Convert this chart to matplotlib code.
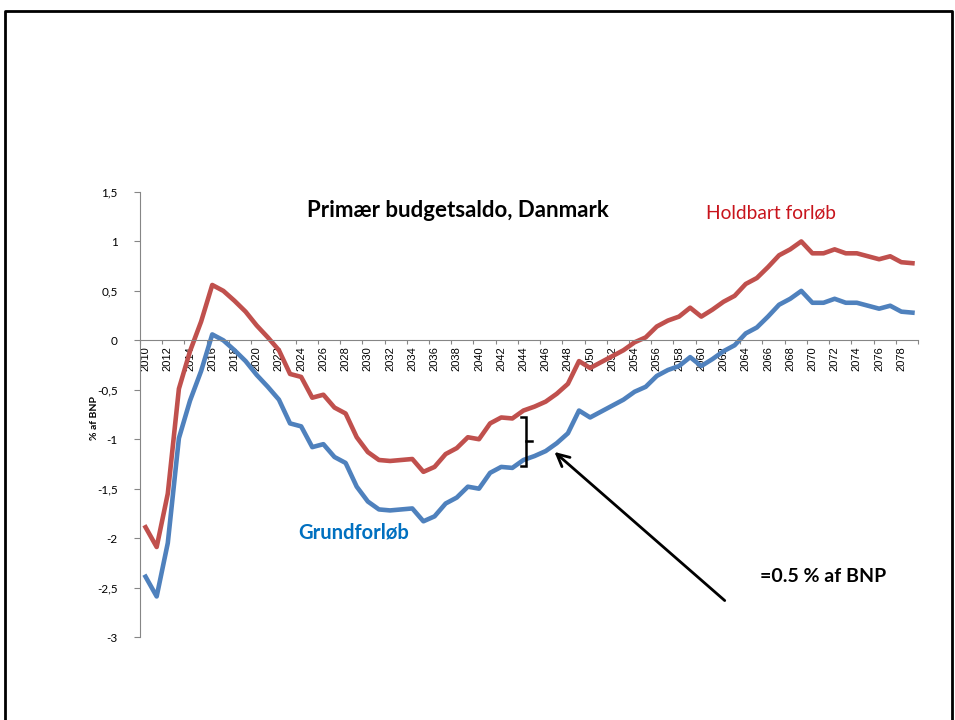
import numpy as np
import matplotlib
matplotlib.use("Agg")
import matplotlib.pyplot as plt
from matplotlib.lines import Line2D

# years on the category axis
years = list(range(2010, 2080))

# Holdbart forløb (sustainable path), % af BNP
holdbart = [-1.89, -2.09, -1.55, -0.49, -0.11, 0.19, 0.56, 0.50, 0.40, 0.29,
            0.15, 0.03, -0.10, -0.34, -0.37, -0.58, -0.55, -0.68, -0.74, -0.98,
            -1.13, -1.21, -1.22, -1.21, -1.20, -1.33, -1.28, -1.15, -1.09, -0.98,
            -1.00, -0.84, -0.78, -0.79, -0.71, -0.67, -0.62, -0.54, -0.44, -0.21,
            -0.28, -0.22, -0.16, -0.10, -0.02, 0.03, 0.14, 0.20, 0.24, 0.33,
            0.24, 0.31, 0.39, 0.45, 0.57, 0.63, 0.74, 0.86, 0.92, 1.00,
            0.88, 0.88, 0.92, 0.88, 0.88, 0.85, 0.82, 0.85, 0.79, 0.78]

# Grundforløb (baseline path), % af BNP
grund = [-2.39, -2.59, -2.05, -0.99, -0.61, -0.31, 0.06, 0.00, -0.10, -0.21,
         -0.35, -0.47, -0.60, -0.84, -0.87, -1.08, -1.05, -1.18, -1.24, -1.48,
         -1.63, -1.71, -1.72, -1.71, -1.70, -1.83, -1.78, -1.65, -1.59, -1.48,
         -1.50, -1.34, -1.28, -1.29, -1.21, -1.17, -1.12, -1.04, -0.94, -0.71,
         -0.78, -0.72, -0.66, -0.60, -0.52, -0.47, -0.36, -0.30, -0.26, -0.17,
         -0.26, -0.19, -0.11, -0.05, 0.07, 0.13, 0.24, 0.36, 0.42, 0.50,
         0.38, 0.38, 0.42, 0.38, 0.38, 0.35, 0.32, 0.35, 0.29, 0.28]

y_ticks = [1.5, 1, 0.5, 0, -0.5, -1, -1.5, -2, -2.5, -3]
y_ticklabels = ["1,5", "1", "0,5", "0", "-0,5", "-1", "-1,5", "-2", "-2,5", "-3"]

red = "#C0504D"
blue = "#4F81BD"
grey = "#868686"

fig = plt.figure(figsize=(9.55, 7.2), dpi=100)
ax = fig.add_axes([140 / 955, 1 - 637 / 720, 778 / 955, 445 / 720])

x = np.arange(len(years))
ax.plot(x, holdbart, color=red, lw=3.3, solid_joinstyle="round")
ax.plot(x, grund, color=blue, lw=3.3, solid_joinstyle="round")

ax.set_xlim(-0.5, len(years) - 0.5)
ax.set_ylim(-3, 1.5)

# axes styling: only left spine, x axis crossing at zero
for s in ["top", "right"]:
    ax.spines[s].set_visible(False)
ax.spines["bottom"].set_position(("data", 0))
ax.spines["bottom"].set_color(grey)
ax.spines["left"].set_color(grey)
ax.spines["bottom"].set_linewidth(0.8)
ax.spines["left"].set_linewidth(0.8)

ax.set_yticks(y_ticks)
ax.set_yticklabels(y_ticklabels, fontsize=8.5, family="Lato")
ax.tick_params(axis="y", direction="out", length=4, color=grey, pad=12)

# major ticks between categories, labels on every second year
ax.set_xticks(np.arange(-0.5, len(years), 2))
ax.set_xticklabels([])
ax.tick_params(axis="x", which="major", direction="out", length=3, color=grey)
ax.set_xticks(x[::2], minor=True)
ax.set_xticklabels([str(y) for y in years[::2]], minor=True, rotation=90,
                   fontsize=8, family="Liberation Sans")
ax.tick_params(axis="x", which="minor", length=0, pad=4)

ax.text(-0.058, 0.492, "% af BNP", transform=ax.transAxes, rotation=90,
        ha="center", va="center", fontsize=7.5, fontweight="bold", family="Lato")

# texts
ax.text(28.1, 1.31, "Primær budgetsaldo, Danmark", ha="center", va="center",
        fontsize=16, fontweight="bold", family="Lato")
ax.text(50.4, 1.29, "Holdbart forløb", ha="left", va="center",
        fontsize=13.8, color="#C8141C", family="Lato")
ax.text(13.7, -1.94, "Grundforløb", ha="left", va="center",
        fontsize=14.5, fontweight="bold", color="#0070C0", family="Lato")
ax.text(55.3, -2.39, "=0.5 % af BNP", ha="left", va="center",
        fontsize=14, fontweight="bold", family="Lato")

# arrow pointing at the baseline path
ax.annotate("", xy=(36.6, -1.11), xytext=(52.3, -2.65),
            arrowprops=dict(arrowstyle="->", color="black", lw=2.0,
                            mutation_scale=22))

# bracket marking the gap between the two paths
bx, btop, bbot = 34.2, -0.775, -1.267
ax.plot([bx - 0.4, bx, bx, bx - 0.4], [btop, btop, bbot, bbot],
        color="black", lw=1.8, solid_joinstyle="miter")
ax.plot([bx, bx + 0.6], [(btop + bbot) / 2] * 2, color="black", lw=1.8)

# slide frame
fig.add_artist(Line2D([5 / 955, 5 / 955, 952 / 955, 952 / 955],
                      [0, 1 - 11 / 720, 1 - 11 / 720, 0],
                      color="black", lw=2.0, transform=fig.transFigure))

fig.savefig("out.png", dpi=100)
